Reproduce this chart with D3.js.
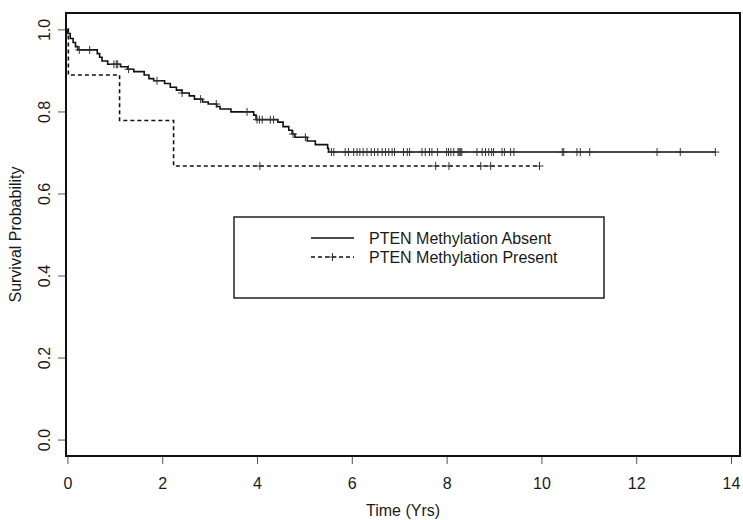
<!DOCTYPE html>
<html>
<head>
<meta charset="utf-8">
<script src="https://cdn.jsdelivr.net/npm/d3@7"></script>
<style>
  html, body { margin: 0; padding: 0; background: #fff; }
  svg { display: block; }
  text { font-family: "Liberation Sans", Arial, Helvetica, sans-serif; fill: #1a1a1a; }
</style>
</head>
<body>
<svg id="chart" width="743" height="520"></svg>
<script>
// ---- Data ----
const absentEventTimes = [0.01, 0.06, 0.12, 0.17, 0.22, 0.63, 0.68, 0.73, 0.85, 1.12, 1.27, 1.40, 1.62, 1.72, 1.82,
  2.05, 2.17, 2.30, 2.42, 2.57, 2.68, 2.85, 2.97, 3.15, 3.22, 3.45, 3.93, 3.98, 4.44, 4.55, 4.67, 4.74, 4.80,
  5.06, 5.23, 5.49, 5.51];
const absentSurvival = [0.990, 0.978, 0.968, 0.958, 0.950, 0.941, 0.932, 0.923, 0.915, 0.909, 0.903, 0.897, 0.889, 0.880, 0.875,
  0.868, 0.859, 0.852, 0.845, 0.838, 0.830, 0.823, 0.818, 0.812, 0.806, 0.799, 0.791, 0.780, 0.774, 0.763, 0.754, 0.745, 0.737,
  0.728, 0.719, 0.710, 0.701];
const absentCensorTimes = [0.25, 0.47, 0.98, 1.03, 1.06, 1.29, 1.89, 2.42, 2.81, 3.14, 3.79, 4.00, 4.05, 4.11, 4.28, 4.35,
  4.76, 5.02, 5.57, 5.62, 5.86, 5.93, 6.04, 6.11, 6.17, 6.24, 6.32, 6.41, 6.48, 6.55, 6.64, 6.71, 6.78, 6.85, 6.90,
  7.09, 7.17, 7.22, 7.48, 7.55, 7.64, 7.69, 7.81, 8.00, 8.04, 8.09, 8.15, 8.24, 8.26, 8.28, 8.30, 8.32, 8.64, 8.75,
  8.82, 8.89, 8.95, 8.99, 9.17, 9.22, 9.35, 9.42, 10.44, 10.47, 10.75, 10.82, 11.02, 12.44, 12.93, 13.67];

const presentEventTimes = [0.02, 1.10, 2.24];
const presentSurvival = [0.889, 0.778, 0.667];
const presentCensorTimes = [4.06, 7.77, 8.05, 8.72, 8.93, 9.96];

const xTickValues = [0, 2, 4, 6, 8, 10, 12, 14];
const yTickValues = [0.0, 0.2, 0.4, 0.6, 0.8, 1.0];
const legendLabels = ["PTEN Methylation Absent", "PTEN Methylation Present"];
const xAxisTitle = "Time (Yrs)";
const yAxisTitle = "Survival Probability";

// ---- Layout ----
const svg = d3.select("#chart");
const box = { left: 66, right: 740, top: 13, bottom: 456 };

const x = d3.scaleLinear().domain([-0.03, 14.19]).range([box.left, box.right]);
const y = d3.scaleLinear().domain([-0.04, 1.04]).range([box.bottom, box.top]);

function stepPoints(times, surv, censors) {
  const pts = [[0, 1]];
  times.forEach((t, i) => pts.push([t, surv[i]]));
  const end = Math.max(d3.max(times), d3.max(censors));
  pts.push([end, surv[surv.length - 1]]);
  return pts;
}
function survAt(t, times, surv) {
  let s = 1;
  times.forEach((tt, i) => { if (tt <= t) s = surv[i]; });
  return s;
}

const line = d3.line().x(d => x(d[0])).y(d => y(d[1])).curve(d3.curveStepAfter);

const series = [
  { times: absentEventTimes, surv: absentSurvival, censors: absentCensorTimes, dash: null },
  { times: presentEventTimes, surv: presentSurvival, censors: presentCensorTimes, dash: "4,3" }
];

const plot = svg.append("g");
series.forEach(s => {
  plot.append("path")
    .attr("d", line(stepPoints(s.times, s.surv, s.censors)))
    .attr("fill", "none")
    .attr("stroke", "#111")
    .attr("stroke-width", 1.6)
    .attr("stroke-dasharray", s.dash);
  const h = 4;
  s.censors.forEach(t => {
    const cx = x(t), cy = y(survAt(t, s.times, s.surv));
    plot.append("path")
      .attr("d", `M${cx},${cy - h}V${cy + h}M${cx - h},${cy}H${cx + h}`)
      .attr("stroke", "#333")
      .attr("stroke-width", 1)
      .attr("fill", "none");
  });
});

// ---- Axes ----
const xAxis = d3.axisBottom(x).tickValues(xTickValues).tickSize(8).tickPadding(14).tickFormat(d3.format("d"));
const gx = svg.append("g").attr("transform", `translate(0,${box.bottom})`).call(xAxis);
gx.select(".domain").remove();
gx.selectAll("line").attr("stroke", "#555");
gx.selectAll("text").attr("font-size", 16).attr("fill", "#1a1a1a")
  .attr("font-family", "Liberation Sans, Arial, sans-serif");

const yAxis = d3.axisLeft(y).tickValues(yTickValues).tickSize(8).tickFormat(d3.format(".1f"));
const gy = svg.append("g").attr("transform", `translate(${box.left},0)`).call(yAxis);
gy.select(".domain").remove();
gy.selectAll("line").attr("stroke", "#555");
gy.selectAll("text")
  .attr("font-size", 16).attr("fill", "#1a1a1a")
  .attr("font-family", "Liberation Sans, Arial, sans-serif")
  .attr("x", null).attr("dy", null)
  .attr("text-anchor", "middle")
  .attr("transform", "translate(-16,0) rotate(-90)");

// plot box
svg.append("rect")
  .attr("x", box.left).attr("y", box.top)
  .attr("width", box.right - box.left).attr("height", box.bottom - box.top)
  .attr("fill", "none").attr("stroke", "#111").attr("stroke-width", 2);

// axis titles
svg.append("text")
  .attr("x", (box.left + box.right) / 2).attr("y", 516)
  .attr("text-anchor", "middle").attr("font-size", 16)
  .text(xAxisTitle);
svg.append("text")
  .attr("transform", `translate(21,${(box.top + box.bottom) / 2}) rotate(-90)`)
  .attr("text-anchor", "middle").attr("font-size", 16)
  .text(yAxisTitle);

// ---- Legend ----
const lg = svg.append("g");
lg.append("rect")
  .attr("x", 234).attr("y", 217).attr("width", 370).attr("height", 81)
  .attr("fill", "#fff").attr("stroke", "#222").attr("stroke-width", 1.5);
const legendRows = [
  { label: legendLabels[0], dash: null, plus: false, yy: 238 },
  { label: legendLabels[1], dash: "4,3", plus: true, yy: 257 }
];
legendRows.forEach(r => {
  lg.append("line")
    .attr("x1", 311).attr("x2", 354).attr("y1", r.yy).attr("y2", r.yy)
    .attr("stroke", "#111").attr("stroke-width", 1.4).attr("stroke-dasharray", r.dash);
  if (r.plus) {
    const cx = 332.5, h = 4;
    lg.append("path")
      .attr("d", `M${cx},${r.yy - h}V${r.yy + h}M${cx - h},${r.yy}H${cx + h}`)
      .attr("stroke", "#333").attr("stroke-width", 1).attr("fill", "none");
  }
  lg.append("text")
    .attr("x", 369).attr("y", r.yy + 5.5)
    .attr("font-size", 16)
    .text(r.label);
});
</script>
</body>
</html>
